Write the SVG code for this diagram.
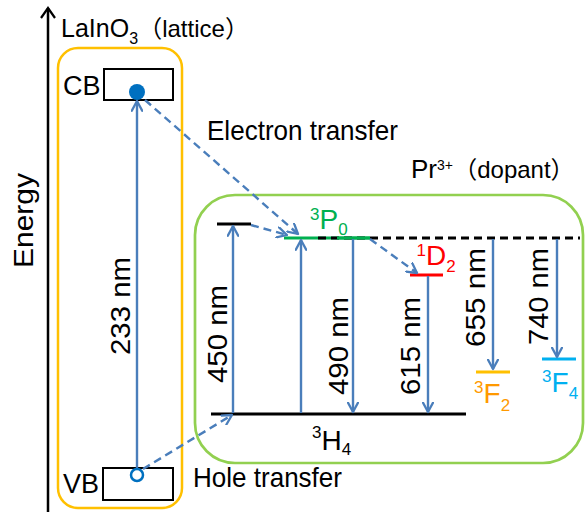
<svg xmlns="http://www.w3.org/2000/svg" width="585" height="512" viewBox="0 0 585 512">
<style>
text{font-family:"Liberation Sans","Noto Sans CJK JP",Arial,sans-serif;fill:#000}
.lvl{stroke-width:3;fill:none}
.arr{stroke:#4A7EBB;stroke-width:2.4;fill:none;marker-end:url(#ah)}
.dash{stroke-dasharray:8 5}
.box{fill:#fff;stroke:#000;stroke-width:2}
.lbl{font-size:28px}
.sup{font-size:17px}
.main{font-size:28px}
</style>
<defs>
<marker id="ah" viewBox="0 0 12 12" refX="10.5" refY="6" markerWidth="12" markerHeight="12" markerUnits="userSpaceOnUse" orient="auto">
<path d="M0.8,0.8 L10.5,6 L0.8,11.2" fill="none" stroke="#4A7EBB" stroke-width="2.3" stroke-linecap="round" stroke-linejoin="round"/>
</marker>
</defs>
<rect width="585" height="512" fill="#fff"/>

<g id="energy-axis">
<line x1="48" y1="8" x2="48" y2="512" stroke="#000" stroke-width="2.5"/>
<polyline points="41,18 48,8 55,18" fill="none" stroke="#000" stroke-width="2.2"/>
<text class="lbl" transform="translate(33,268) rotate(-90)" textLength="95" lengthAdjust="spacingAndGlyphs">Energy</text>
</g>

<g id="lattice">
<rect x="58" y="48" width="124" height="460" rx="20" fill="none" stroke="#FFC000" stroke-width="2.5"/>
<text y="37"><tspan x="61" font-size="25">LaInO</tspan><tspan x="129.2" y="44" font-size="16">3</tspan><tspan x="138.2" y="37" font-size="24">（lattice）</tspan></text>
</g>

<g id="dopant">
<rect x="195" y="195" width="388" height="268" rx="40" fill="none" stroke="#92D050" stroke-width="2.7"/>
<text y="178"><tspan x="411" font-size="26">Pr</tspan><tspan x="437" y="170" font-size="14">3+</tspan><tspan x="453.2" y="178" font-size="24">（dopant）</tspan></text>
</g>

<g id="CB">
<rect class="box" x="104" y="69" width="69" height="31"/>
<text font-size="27" x="63" y="95">CB</text>
</g>

<g id="VB">
<rect class="box" x="103" y="468" width="70" height="32"/>
<text font-size="27" x="63" y="493">VB</text>
</g>

<g id="levels">
<line class="lvl" x1="217" y1="224" x2="251" y2="224" stroke="#000"/>
<line class="lvl" x1="211" y1="414" x2="466" y2="414" stroke="#000"/>
<line class="lvl" x1="284" y1="238" x2="370" y2="238" stroke="#00B050"/>
<line class="lvl dash" x1="318" y1="238" x2="580" y2="238" stroke="#000"/>
<line class="lvl" x1="337" y1="238" x2="370" y2="238" stroke="#00B050"/>
<line class="lvl" x1="410" y1="275" x2="443" y2="275" stroke="#FF0000"/>
<line class="lvl" x1="476" y1="372" x2="510" y2="372" stroke="#FFC000"/>
<line class="lvl" x1="542" y1="359" x2="576" y2="359" stroke="#00B0F0"/>
</g>

<g id="connectors">
<line class="arr" x1="137" y1="468" x2="137" y2="101"/>
<line class="arr dash" x1="145" y1="100" x2="298" y2="234"/>
<line class="arr dash" x1="143" y1="469" x2="232" y2="415"/>
<line class="arr dash" x1="251" y1="225" x2="287" y2="235"/>
<line class="arr dash" x1="370" y1="239" x2="417" y2="273"/>
<line class="arr" x1="233" y1="413" x2="233" y2="226"/>
<line class="arr" x1="301" y1="413" x2="301" y2="240"/>
<line class="arr" x1="353" y1="239" x2="353" y2="412"/>
<line class="arr" x1="428" y1="276" x2="428" y2="412"/>
<line class="arr" x1="493" y1="239" x2="493" y2="369"/>
<line class="arr" x1="557" y1="239" x2="557" y2="357"/>
</g>

<g id="labels">
<circle cx="137" cy="92" r="8" fill="#0070C0"/>
<circle cx="137" cy="475" r="6" fill="#fff" stroke="#0070C0" stroke-width="2.5"/>
<text class="lbl" x="207" y="140" textLength="191" lengthAdjust="spacingAndGlyphs">Electron transfer</text>
<text class="lbl" x="193" y="487" textLength="149" lengthAdjust="spacingAndGlyphs">Hole transfer</text>
<text class="lbl" transform="translate(130,355) rotate(-90)" textLength="98" lengthAdjust="spacingAndGlyphs">233 nm</text>
<text class="lbl" transform="translate(227,383) rotate(-90)" textLength="98" lengthAdjust="spacingAndGlyphs">450 nm</text>
<text class="lbl" transform="translate(348,395) rotate(-90)" textLength="98" lengthAdjust="spacingAndGlyphs">490 nm</text>
<text class="lbl" transform="translate(420,395) rotate(-90)" textLength="98" lengthAdjust="spacingAndGlyphs">615 nm</text>
<text class="lbl" transform="translate(485,347) rotate(-90)" textLength="99" lengthAdjust="spacingAndGlyphs">655 nm</text>
<text class="lbl" transform="translate(548,345) rotate(-90)" textLength="97" lengthAdjust="spacingAndGlyphs">740 nm</text>
<text style="fill:#00B050"><tspan class="sup" x="310" y="219.5">3</tspan><tspan class="main" x="319.5" y="229">P</tspan><tspan class="sup" x="338.2" y="235">0</tspan></text>
<text style="fill:#FF0000"><tspan class="sup" x="416.5" y="256">1</tspan><tspan class="main" x="426" y="265">D</tspan><tspan class="sup" x="446.3" y="272">2</tspan></text>
<text style="fill:#FF9900"><tspan class="sup" x="474" y="393">3</tspan><tspan class="main" x="483.5" y="403">F</tspan><tspan class="sup" x="500.7" y="410.5">2</tspan></text>
<text style="fill:#00B0F0"><tspan class="sup" x="542" y="382">3</tspan><tspan class="main" x="551.5" y="392">F</tspan><tspan class="sup" x="568.7" y="398.5">4</tspan></text>
<text><tspan class="sup" x="312" y="438">3</tspan><tspan class="main" x="321.5" y="450">H</tspan><tspan class="sup" x="341.8" y="455">4</tspan></text>
</g>
</svg>
